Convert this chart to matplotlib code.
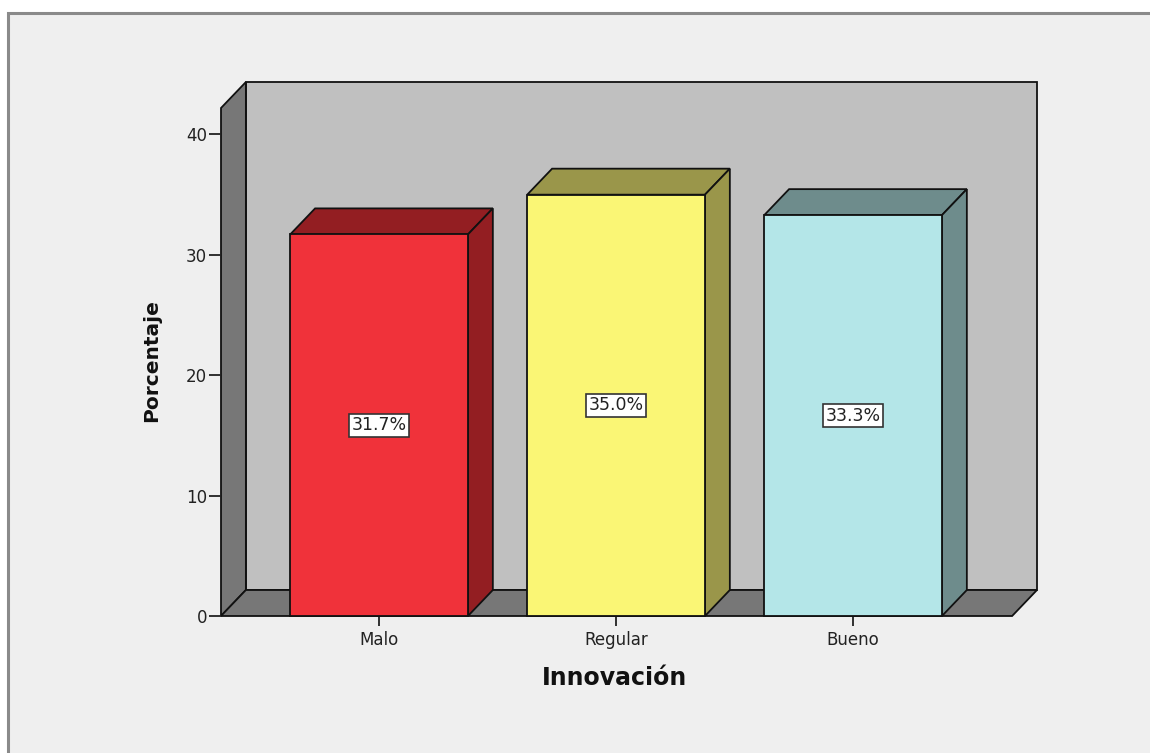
import numpy as np
import matplotlib.pyplot as plt
from matplotlib.patches import Polygon, Rectangle

# ============================================================
# Data
# ============================================================
categories = ["Malo", "Regular", "Bueno"]
percentages = [31.7, 35.0, 33.3]
labels = ["31.7%", "35.0%", "33.3%"]

front_colors = ["#F0323A", "#FAF675", "#B4E6E8"]
dark_colors = ["#931E22", "#9A964A", "#6E8C8C"]

# 3D geometry (data units)
bar_w = 0.75
dx, dy = 0.105, 2.16
x_left, x_right = -0.667, 2.671
wall_top = 42.2

# ============================================================
# Figure
# ============================================================
W, H = 1150, 753
fig = plt.figure(figsize=(W / 100, H / 100), dpi=100)
fig.patch.set_facecolor("white")

# outer panel with gray frame (top and left visible)
fig.patches.append(Rectangle((8 / W, -0.05), 1.1, 1 - 13 / H + 0.05,
                             transform=fig.transFigure, facecolor="#EFEFEF",
                             edgecolor="#8A8A8A", linewidth=2.2, zorder=-10))

ax = fig.add_axes([221 / W, 1 - 616 / H, (1037 - 221) / W, (616 - 82) / H])
ax.set_zorder(5)
ax.set_xlim(x_left, x_right + dx)
ax.set_ylim(0, wall_top + dy)
ax.patch.set_visible(False)
for s in ax.spines.values():
    s.set_visible(False)

lw = 1.3
ec = "#111111"

# back wall
ax.add_patch(Polygon([(x_left + dx, dy), (x_right + dx, dy),
                      (x_right + dx, wall_top + dy), (x_left + dx, wall_top + dy)],
                     closed=True, facecolor="#C0C0C0", edgecolor=ec, lw=lw, clip_on=False))
# left wall
ax.add_patch(Polygon([(x_left, 0), (x_left + dx, dy), (x_left + dx, wall_top + dy),
                      (x_left, wall_top)],
                     closed=True, facecolor="#777777", edgecolor=ec, lw=lw, clip_on=False))
# floor
ax.add_patch(Polygon([(x_left, 0), (x_right, 0), (x_right + dx, dy), (x_left + dx, dy)],
                     closed=True, facecolor="#777777", edgecolor=ec, lw=lw, clip_on=False))

# bars
xs = np.arange(len(categories))
for x, v, fc, dc, lab in zip(xs, percentages, front_colors, dark_colors, labels):
    x0, x1 = x - bar_w / 2, x + bar_w / 2
    # top face
    ax.add_patch(Polygon([(x0, v), (x1, v), (x1 + dx, v + dy), (x0 + dx, v + dy)],
                         closed=True, facecolor=dc, edgecolor=ec, lw=lw, clip_on=False))
    # side face
    ax.add_patch(Polygon([(x1, 0), (x1 + dx, dy), (x1 + dx, v + dy), (x1, v)],
                         closed=True, facecolor=dc, edgecolor=ec, lw=lw, clip_on=False))
    # front face
    ax.add_patch(Rectangle((x0, 0), bar_w, v, facecolor=fc, edgecolor=ec,
                           lw=lw, clip_on=False, zorder=3))
    ax.text(x, v / 2, lab, ha="center", va="center", fontsize=12.5, color="#222222",
            zorder=5,
            bbox=dict(boxstyle="square,pad=0.15", facecolor="white",
                      edgecolor="#333333", linewidth=1.2))

# axes ticks
ax.set_yticks([0, 10, 20, 30, 40])
ax.set_xticks(xs)
ax.set_xticklabels(categories)
ax.tick_params(axis="y", direction="out", length=9, width=1.3, pad=1,
               labelsize=12, colors="#222222")
ax.tick_params(axis="x", direction="out", length=7, width=1.3, pad=4,
               labelsize=12, colors="#222222")

fig.text(615 / W, 1 - 678 / H, "Innovación", ha="center", va="center",
         fontsize=17, fontweight="bold", color="#111111")
fig.text(152 / W, 1 - 361 / H, "Porcentaje", ha="center", va="center",
         rotation=90, fontsize=14.5, fontweight="bold", color="#111111")

plt.savefig("out.png", dpi=100)
